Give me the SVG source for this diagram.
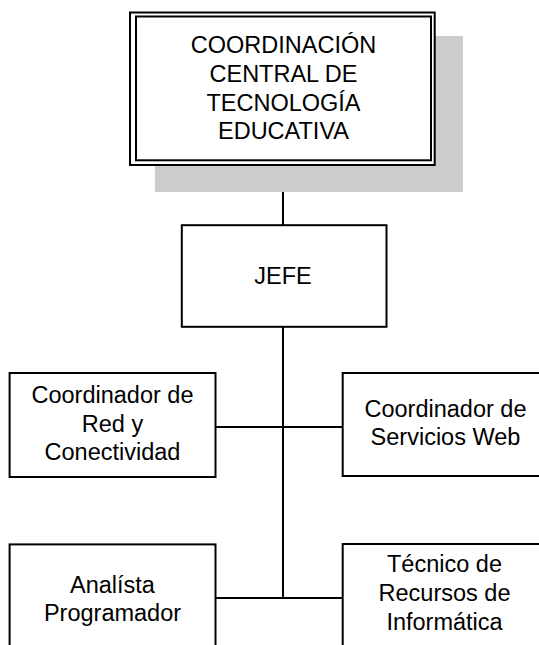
<svg xmlns="http://www.w3.org/2000/svg" width="539" height="645" viewBox="0 0 539 645">
<style>
.box{fill:#ffffff;stroke:#000000;stroke-width:2}
.ln{fill:none;stroke:#000000;stroke-width:2}
text{font-family:"Liberation Sans",Arial,sans-serif;font-size:23.5px;fill:#000000;text-anchor:middle}
</style>
<rect width="539" height="645" fill="#ffffff"/>
<g id="connectors">
<line class="ln" x1="283" y1="165" x2="283" y2="225"/>
<line class="ln" x1="283" y1="327" x2="283" y2="598"/>
<line class="ln" x1="215.5" y1="427" x2="343" y2="427"/>
<line class="ln" x1="215.5" y1="598" x2="343" y2="598"/>
</g>
<g id="coordinacion">
<rect x="155" y="36" width="308" height="156" fill="#cccccc"/>
<rect class="box" x="130" y="12.5" width="304.7" height="152.5"/>
<rect class="box" x="136" y="16.5" width="295" height="143.8"/>
<text x="283.5" y="52.5">COORDINACIÓN</text>
<text x="283.5" y="81.5">CENTRAL DE</text>
<text x="283.5" y="110.5">TECNOLOGÍA</text>
<text x="283.5" y="139.3">EDUCATIVA</text>
</g>
<g id="jefe">
<rect class="box" x="181.8" y="225.2" width="204.7" height="101.6"/>
<text x="283" y="284">JEFE</text>
</g>
<g id="coord-red">
<rect class="box" x="9.6" y="373" width="205.9" height="104"/>
<text x="112.5" y="403">Coordinador de</text>
<text x="112.5" y="431.7">Red y</text>
<text x="112.5" y="460.3">Conectividad</text>
</g>
<g id="coord-web">
<rect class="box" x="342.7" y="373" width="206" height="103"/>
<text x="445.5" y="416.7">Coordinador de</text>
<text x="445.5" y="444.5">Servicios Web</text>
</g>
<g id="analista">
<rect class="box" x="9.6" y="544.4" width="205.9" height="110"/>
<text x="112.5" y="593.3">Analísta</text>
<text x="112.5" y="620.5">Programador</text>
</g>
<g id="tecnico">
<rect class="box" x="342.7" y="544" width="206" height="110"/>
<text x="444.5" y="571.7">Técnico de</text>
<text x="444.5" y="601">Recursos de</text>
<text x="444.5" y="630">Informática</text>
</g>
</svg>
